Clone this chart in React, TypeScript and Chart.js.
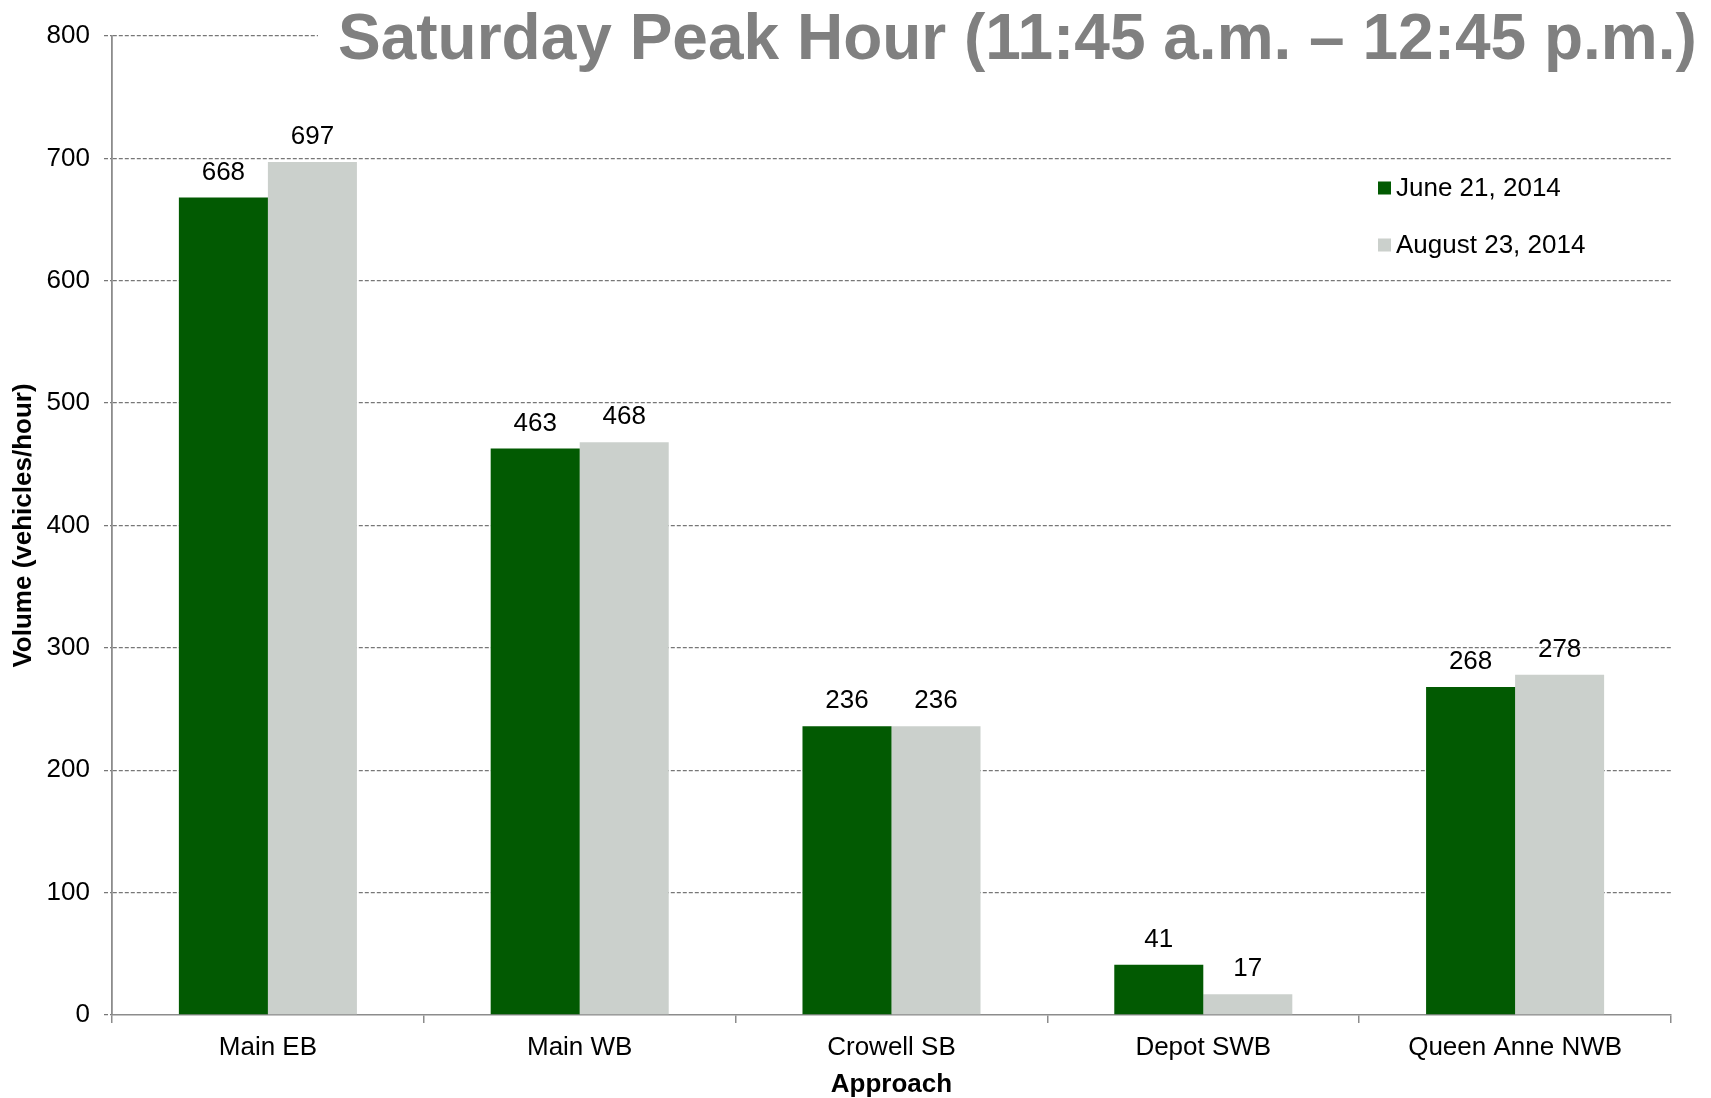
import React, { useEffect, useRef } from "react";
import { Chart, registerables } from "chart.js";

Chart.register(...registerables);

const categories = ["Main EB", "Main WB", "Crowell SB", "Depot SWB", "Queen Anne NWB"];
const june2014 = [668, 463, 236, 41, 268];
const august2014 = [697, 468, 236, 17, 278];
const seriesLabels = ["June 21, 2014", "August 23, 2014"];
const seriesColors = ["#025A02", "#CBD0CC"];
const yMin = 0;
const yMax = 800;
const yStep = 100;
const titleText = "Saturday Peak Hour (11:45 a.m. \u2013 12:45 p.m.)";
const yTitle = "Volume (vehicles/hour)";
const xTitle = "Approach";

const FONT = "'Liberation Sans', Arial, Helvetica, sans-serif";

const W = 1711;
const H = 1098;

const overlayPlugin = {
  id: "overlay",
  afterDatasetsDraw(chart: any) {
    const ctx = chart.ctx;
    ctx.save();
    ctx.font = `26px ${FONT}`;
    ctx.fillStyle = "#000";
    ctx.textAlign = "center";
    ctx.textBaseline = "middle";
    chart.data.datasets.forEach((ds: any, di: number) => {
      const meta = chart.getDatasetMeta(di);
      meta.data.forEach((el: any, i: number) => {
        ctx.fillText(String(ds.data[i]), el.x, el.y - 25);
      });
    });
    ctx.restore();
  },
  afterDraw(chart: any) {
    const ctx = chart.ctx;
    ctx.save();
    // title with white backing over the top gridline
    ctx.fillStyle = "#fff";
    ctx.fillRect(318, 0, W - 318, 68);
    ctx.font = `bold 64px ${FONT}`;
    ctx.fillStyle = "#808080";
    ctx.textAlign = "left";
    ctx.textBaseline = "alphabetic";
    ctx.fillText(titleText, 338, 59);

    // legend inside plot
    const ys = [188, 245];
    ctx.font = `26px ${FONT}`;
    ctx.textBaseline = "middle";
    chart.data.datasets.forEach((ds: any, di: number) => {
      ctx.fillStyle = ds.backgroundColor;
      ctx.fillRect(1378, ys[di] - 6.5, 13, 13);
      ctx.fillStyle = "#000";
      ctx.fillText(ds.label, 1396, ys[di] + 1);
    });
    ctx.restore();
  },
};

export default function App() {
  const ref = useRef<HTMLCanvasElement | null>(null);

  useEffect(() => {
    if (!ref.current) return;
    const chart = new Chart(ref.current, {
      type: "bar",
      data: {
        labels: categories,
        datasets: [
          {
            label: seriesLabels[0],
            data: june2014,
            backgroundColor: seriesColors[0],
            categoryPercentage: 0.571,
            barPercentage: 1,
          },
          {
            label: seriesLabels[1],
            data: august2014,
            backgroundColor: seriesColors[1],
            categoryPercentage: 0.571,
            barPercentage: 1,
          },
        ],
      },
      options: {
        animation: false,
        responsive: false,
        maintainAspectRatio: false,
        layout: { padding: { left: 0, right: 40, top: 36, bottom: 0 } },
        plugins: {
          legend: { display: false },
          title: { display: false },
          tooltip: { enabled: false },
        },
        scales: {
          x: {
            offset: true,
            grid: {
              display: true,
              offset: true,
              drawOnChartArea: false,
              drawTicks: true,
              tickLength: 8,
              color: "#8C8C8C",
              tickColor: "#8C8C8C",
              lineWidth: 1.5,
            },
            border: { display: true, color: "#8C8C8C", width: 1.5 },
            ticks: {
              color: "#000",
              padding: 9,
              font: { family: FONT, size: 26 },
              maxRotation: 0,
              autoSkip: false,
            },
            title: {
              display: true,
              text: xTitle,
              color: "#000",
              font: { family: FONT, size: 26, weight: "bold", lineHeight: 1.0 },
              padding: { top: 0, bottom: 0 },
            },
            afterFit(scale: any) {
              scale.height = H - 1015;
            },
          },
          y: {
            min: yMin,
            max: yMax,
            grid: {
              color: (c: any) => (c.tick && c.tick.value === 0 ? "rgba(0,0,0,0)" : "#777777"),
              lineWidth: 1.3,
              tickColor: "#777777",
              tickLength: 8,
              tickWidth: 1.3,
              tickBorderDash: [4, 2],
            },
            border: { display: true, color: "#8C8C8C", width: 1.8, dash: [4, 2] },
            ticks: {
              stepSize: yStep,
              color: "#000",
              padding: 14,
              font: { family: FONT, size: 26 },
            },
            title: {
              display: true,
              text: yTitle,
              color: "#000",
              font: { family: FONT, size: 26, weight: "bold" },
              padding: { top: 8, bottom: 0 },
            },
            afterFit(scale: any) {
              scale.width = 112;
            },
          },
        },
      },
      plugins: [overlayPlugin],
    } as any);
    return () => chart.destroy();
  }, []);

  return (
    <div style={{ position: "fixed", left: 0, top: 0, width: W, height: H, background: "#fff" }}>
      <canvas ref={ref} width={W} height={H} style={{ width: W, height: H, display: "block" }} />
    </div>
  );
}
